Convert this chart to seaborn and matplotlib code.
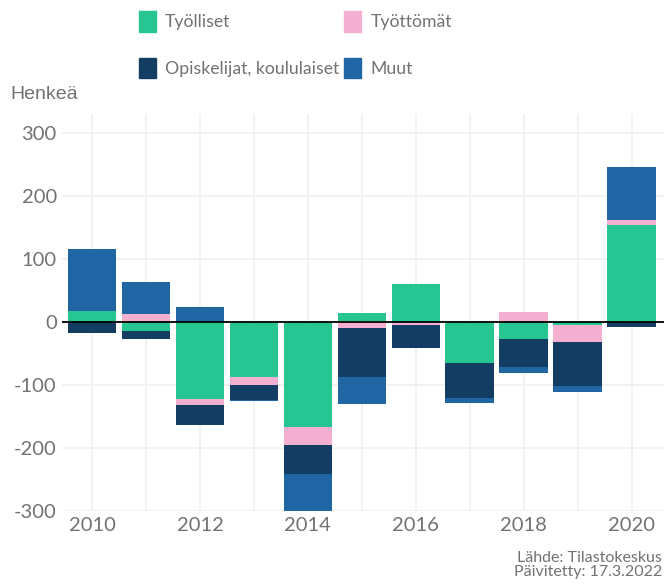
import numpy as np
import pandas as pd
import matplotlib
matplotlib.use("Agg")
import matplotlib.pyplot as plt
from matplotlib.patches import Patch
import seaborn as sns

vuodet = [2010, 2011, 2012, 2013, 2014, 2015, 2016, 2017, 2018, 2019, 2020]
tyolliset = [17, -14, -122, -87, -167, 14, 60, -65, -27, -5, 154]
tyottomat = [0, 12, -10, -13, -28, -9, -5, -1, 16, -27, 8]
opiskelijat = [-17, -13, -31, -24, -46, -78, -36, -54, -44, -70, -8]
muut = [99, 51, 24, -1, -65, -43, 0, -9, -10, -9, 83]

sarjat = ["Työlliset", "Työttömät", "Opiskelijat, koululaiset", "Muut"]
varit = ["#27C592", "#F5AFD0", "#143D64", "#2066A5"]
tekstivari = "#727272"

sns.set_theme(style="whitegrid")
plt.rcParams["font.family"] = ["Lato", "DejaVu Sans"]
plt.rcParams["axes.unicode_minus"] = False

arvot = np.array([tyolliset, tyottomat, opiskelijat, muut], dtype=float)
pos = np.cumsum(np.clip(arvot, 0, None), axis=0)
neg = np.cumsum(np.clip(arvot, None, 0), axis=0)

fig, ax = plt.subplots(figsize=(6.64, 5.84), dpi=100)
fig.subplots_adjust(left=0.094, right=1.0, top=0.805, bottom=0.125)

# pinotut pylväät: piirretään uloin kerros ensin
for k in range(3, -1, -1):
    for kum in (pos, neg):
        df = pd.DataFrame({"vuosi": vuodet, "arvo": kum[k]})
        sns.barplot(data=df, x="vuosi", y="arvo", native_scale=True, color=varit[k],
                    width=0.9, saturation=1, linewidth=0, ax=ax, zorder=2)

ax.axhline(0, color="black", linewidth=1.3, zorder=3)
ax.set_ylim(-300, 330)
ax.set_xlim(2009.45, 2020.6)
ax.set_yticks([-300, -200, -100, 0, 100, 200, 300])
ax.set_xticks(range(2010, 2021, 2))
ax.set_xticks(range(2010, 2021), minor=True)
ax.grid(True, which="both", color="#f0f0f0", linewidth=1.2)
ax.set_axisbelow(True)
for s in ax.spines.values():
    s.set_visible(False)
ax.tick_params(axis="both", which="both", length=0, labelsize=14.5, labelcolor=tekstivari, pad=4)
ax.set_xlabel("")
ax.set_ylabel("")

fig.text(0.015, 0.83, "Henkeä", fontsize=14, color=tekstivari, family="Liberation Sans")

kahvat = [Patch(color=varit[i]) for i in (0, 2, 1, 3)]
nimet = [sarjat[i] for i in (0, 2, 1, 3)]
fig.legend(kahvat, nimet, ncol=2, loc="upper left", bbox_to_anchor=(0.185, 1.008),
           frameon=False, fontsize=12.7, labelcolor=tekstivari, handlelength=1.0,
           handleheight=1.4, handletextpad=0.5, columnspacing=0.25, labelspacing=1.5)

fig.text(0.997, 0.008, "Lähde: Tilastokeskus\nPäivitetty: 17.3.2022", ha="right", va="bottom",
         fontsize=11.5, color=tekstivari, linespacing=1.0)

fig.savefig("out.png", dpi=100)
